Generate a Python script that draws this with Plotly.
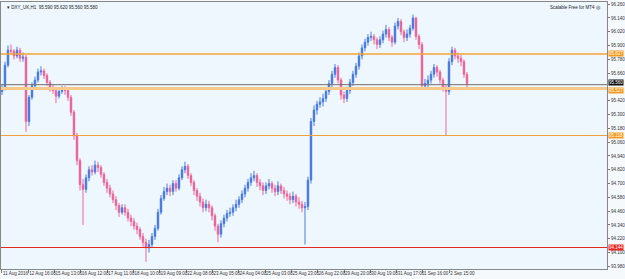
import plotly.graph_objects as go

# ---- data ----
closes = [95.53, 95.73, 95.86, 95.85, 95.81, 95.86, 95.79, 95.80, 95.24, 95.45,
          95.55, 95.60, 95.67, 95.68, 95.64, 95.58, 95.53, 95.51, 95.46, 95.50,
          95.52, 95.51, 95.45, 95.32, 95.12, 94.90, 94.69, 94.65, 94.75, 94.82,
          94.80, 94.86, 94.84, 94.78, 94.71, 94.66, 94.61, 94.56, 94.51, 94.45,
          94.49, 94.45, 94.40, 94.37, 94.33, 94.30, 94.24, 94.19, 94.14, 94.17,
          94.24, 94.31, 94.45, 94.57, 94.63, 94.66, 94.63, 94.70, 94.66, 94.75,
          94.82, 94.85, 94.77, 94.71, 94.64, 94.59, 94.54, 94.49, 94.52, 94.49,
          94.42, 94.33, 94.26, 94.35, 94.40, 94.44, 94.45, 94.49, 94.52, 94.56,
          94.61, 94.66, 94.71, 94.75, 94.77, 94.71, 94.68, 94.64, 94.68, 94.70,
          94.66, 94.63, 94.68, 94.64, 94.61, 94.59, 94.56, 94.59, 94.54, 94.52,
          94.49, 94.50, 94.73, 95.24, 95.34, 95.39, 95.41, 95.44, 95.50, 95.57,
          95.65, 95.71, 95.60, 95.47, 95.44, 95.51, 95.58, 95.65, 95.72, 95.81,
          95.88, 95.93, 95.97, 95.98, 95.95, 95.91, 95.95, 96.00, 96.04, 95.97,
          95.93, 96.07, 96.11, 96.02, 95.97, 96.00, 96.05, 96.14, 95.98, 95.91,
          95.55, 95.57, 95.60, 95.65, 95.71, 95.67, 95.60, 95.53, 95.50, 95.76,
          95.86, 95.81, 95.79, 95.76, 95.65, 95.57]
highs = [95.56, 95.76, 95.90, 95.91, 95.87, 95.89, 95.88, 95.84, 95.82, 95.47,
         95.58, 95.63, 95.70, 95.72, 95.70, 95.66, 95.60, 95.56, 95.53, 95.53,
         95.55, 95.55, 95.53, 95.47, 95.34, 95.14, 94.92, 94.74, 94.78, 94.85,
         94.86, 94.90, 94.89, 94.86, 94.80, 94.74, 94.69, 94.64, 94.59, 94.53,
         94.52, 94.52, 94.48, 94.43, 94.40, 94.36, 94.32, 94.27, 94.22, 94.21,
         94.27, 94.34, 94.48, 94.60, 94.67, 94.70, 94.69, 94.73, 94.73, 94.78,
         94.85, 94.89, 94.87, 94.79, 94.73, 94.66, 94.62, 94.57, 94.56, 94.55,
         94.51, 94.44, 94.35, 94.38, 94.43, 94.47, 94.49, 94.52, 94.56, 94.59,
         94.64, 94.69, 94.74, 94.79, 94.81, 94.79, 94.74, 94.71, 94.71, 94.74,
         94.72, 94.69, 94.72, 94.70, 94.67, 94.64, 94.62, 94.63, 94.61, 94.58,
         94.55, 94.54, 94.76, 95.27, 95.38, 95.42, 95.45, 95.48, 95.53, 95.60,
         95.68, 95.74, 95.73, 95.62, 95.50, 95.54, 95.61, 95.68, 95.75, 95.84,
         95.91, 95.96, 96.00, 96.02, 96.00, 95.97, 95.98, 96.03, 96.08, 96.06,
         95.99, 96.10, 96.14, 96.13, 96.04, 96.04, 96.08, 96.17, 96.15, 96.00,
         95.93, 95.61, 95.64, 95.68, 95.74, 95.73, 95.69, 95.62, 95.56, 95.79,
         95.89, 95.88, 95.84, 95.82, 95.78, 95.67]
lows = [95.47, 95.51, 95.71, 95.82, 95.78, 95.79, 95.76, 95.76, 95.15, 95.20,
        95.43, 95.52, 95.58, 95.64, 95.61, 95.55, 95.50, 95.48, 95.40, 95.44,
        95.48, 95.47, 95.42, 95.29, 95.08, 94.86, 94.64, 94.34, 94.62, 94.72,
        94.77, 94.78, 94.80, 94.75, 94.68, 94.62, 94.58, 94.53, 94.47, 94.41,
        94.43, 94.42, 94.37, 94.33, 94.30, 94.26, 94.21, 94.15, 94.02, 94.10,
        94.14, 94.21, 94.29, 94.43, 94.55, 94.60, 94.59, 94.60, 94.63, 94.64,
        94.73, 94.79, 94.74, 94.68, 94.60, 94.55, 94.50, 94.45, 94.46, 94.45,
        94.38, 94.29, 94.19, 94.23, 94.32, 94.37, 94.41, 94.42, 94.46, 94.49,
        94.53, 94.58, 94.63, 94.68, 94.72, 94.67, 94.64, 94.60, 94.61, 94.65,
        94.62, 94.59, 94.60, 94.61, 94.57, 94.55, 94.52, 94.53, 94.50, 94.48,
        94.45, 94.17, 94.47, 94.70, 95.20, 95.30, 95.36, 95.37, 95.41, 95.47,
        95.54, 95.62, 95.57, 95.43, 95.40, 95.41, 95.48, 95.55, 95.62, 95.69,
        95.78, 95.85, 95.90, 95.94, 95.91, 95.87, 95.88, 95.92, 95.97, 95.94,
        95.89, 95.91, 96.04, 95.99, 95.93, 95.94, 95.97, 96.03, 95.95, 95.87,
        95.52, 95.52, 95.54, 95.57, 95.62, 95.63, 95.57, 95.50, 95.12, 95.47,
        95.73, 95.78, 95.75, 95.72, 95.62, 95.54]
first_open = 95.50

x_labels = ["11 Aug 2016", "12 Aug 16:00", "15 Aug 13:00", "16 Aug 12:00", "17 Aug 11:00",
            "18 Aug 10:00", "19 Aug 09:00", "22 Aug 08:00", "23 Aug 05:00", "24 Aug 04:00",
            "25 Aug 03:00", "25 Aug 23:00", "26 Aug 22:00", "29 Aug 20:00", "30 Aug 19:00",
            "31 Aug 17:00", "1 Sep 16:00", "2 Sep 15:00"]

y_ticks = [93.980, 94.100, 94.220, 94.340, 94.460, 94.580, 94.700, 94.820, 94.940,
           95.060, 95.180, 95.300, 95.420, 95.660, 95.780, 95.900, 96.020, 96.140, 96.260]

level_prices = [95.827, 95.560, 95.527, 95.118, 94.144]
level_colors = ["#F6A536", "#707070", "#F9C98C", "#F2A23C", "#E32A22"]
level_widths = [1.6, 1.0, 3.0, 1.0, 1.0]
level_box = ["#F39A1E", "#111111", "#F39A1E", "#F39A1E", "#E8231E"]
level_box_shift = [0, 2, -2, 0, 0]

title_text = "\u25be DXY_UK,H1  95.590 95.620 95.560 95.580"
corner_text = "Scalable Free for MT4 \u25ce"

# ---- build ----
opens = [first_open] + closes[:-1]
n = len(closes)
idx = list(range(n))
highs2 = [max(h, o, c) for h, o, c in zip(highs, opens, closes)]
lows2 = [min(l, o, c) for l, o, c in zip(lows, opens, closes)]

fig = go.Figure()
fig.add_trace(go.Candlestick(
    x=idx, open=opens, high=highs2, low=lows2, close=closes,
    increasing=dict(line=dict(color="#4C7FE2", width=1), fillcolor="#2446B0"),
    decreasing=dict(line=dict(color="#EE6A9A", width=1), fillcolor="#D42E72"),
    whiskerwidth=0, showlegend=False, hoverinfo="skip"))

FONT = "Liberation Sans"
FS = 4.5
for p, col, w in zip(level_prices, level_colors, level_widths):
    fig.add_shape(type="line", xref="paper", x0=0, x1=1, yref="y", y0=p, y1=p,
                  line=dict(color=col, width=w), layer="above")

for p, bc, ys in zip(level_prices, level_box, level_box_shift):
    fig.add_annotation(xref="paper", x=1.0, xanchor="left", yref="y", y=p,
                       text=f"{p:.3f}", showarrow=False, bgcolor=bc,
                       font=dict(family=FONT, size=FS, color="white"),
                       borderpad=0, xshift=1, yshift=ys)

spacing = 8.77
tickvals = [k * spacing for k in range(len(x_labels))]

fig.update_layout(
    width=625, height=279,
    margin=dict(l=1, r=18, t=2, b=10),
    paper_bgcolor="#F6F9FC", plot_bgcolor="#EEF6FE",
    font=dict(family=FONT, size=FS, color="#333333"),
    xaxis=dict(range=[-0.33, 201.67], rangeslider=dict(visible=False),
               tickvals=tickvals, ticktext=x_labels, tickangle=0, ticks="outside",
               ticklen=3, tickcolor="#777777", ticklabelposition="outside right",
               automargin=False,
               showgrid=False, zeroline=False, showline=True, linecolor="#888888",
               linewidth=1, mirror=True, tickfont=dict(size=FS, color="#333333")),
    yaxis=dict(range=[93.957, 96.279], side="right", tickvals=y_ticks,
               tickformat=".3f", ticks="outside", ticklen=2, tickcolor="#777777",
               automargin=False,
               showgrid=False, zeroline=False, showline=True, linecolor="#888888",
               linewidth=1, mirror=True, tickfont=dict(size=FS, color="#333333")),
)

fig.add_annotation(xref="paper", yref="paper", x=0.006, y=0.995, xanchor="left", yanchor="top",
                   text=title_text, showarrow=False, font=dict(family=FONT, size=FS, color="#222222"))
fig.add_annotation(xref="paper", yref="paper", x=0.993, y=0.995, xanchor="right", yanchor="top",
                   text=corner_text, showarrow=False, font=dict(family=FONT, size=FS, color="#222222"))

fig.write_html("out.html")
